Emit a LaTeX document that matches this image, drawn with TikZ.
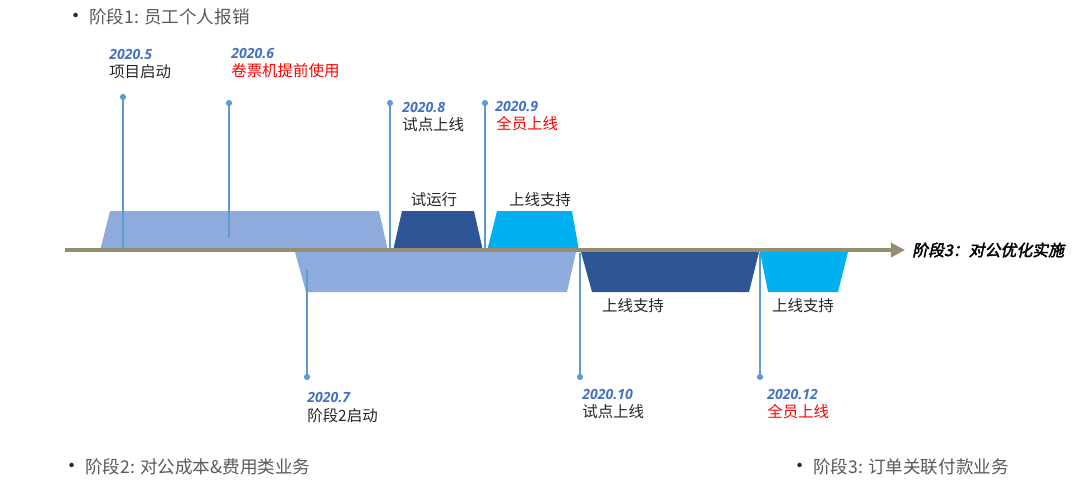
\documentclass[tikz,border=0pt]{standalone}
\usepackage{fontspec}
\setmainfont{Noto Sans CJK SC}[AutoFakeBold=2.5,AutoFakeSlant=0.2]
\newfontfamily\datefont{Open Sans}
\usetikzlibrary{arrows.meta}

\definecolor{lightbar}{RGB}{143,170,220}
\definecolor{darkbar}{RGB}{47,85,151}
\definecolor{cyanbar}{RGB}{0,176,240}
\definecolor{pinblue}{RGB}{91,155,213}
\definecolor{dateblue}{RGB}{68,114,196}
\definecolor{axisolive}{RGB}{150,141,112}
\definecolor{txtgray}{RGB}{38,38,38}
\definecolor{bulletgray}{RGB}{89,89,89}
\definecolor{bulletdot}{RGB}{31,42,68}
\definecolor{alertred}{RGB}{255,0,0}

\begin{document}
\begin{tikzpicture}[x=0.025cm,y=-0.025cm,
    pinline/.style={draw=pinblue,line width=1.5pt},
    datetext/.style={anchor=west,inner sep=0pt,text=dateblue,font=\datefont\bfseries\itshape\fontsize{10}{12}\selectfont},
    eventtext/.style={anchor=west,inner sep=0pt,text=txtgray,font=\fontsize{11}{13}\selectfont},
    redtext/.style={eventtext,text=alertred},
    boxtext/.style={inner sep=0pt,text=txtgray,font=\fontsize{11}{13}\selectfont},
    bullettext/.style={anchor=west,inner sep=0pt,text=bulletgray,font=\fontsize{12.5}{15}\selectfont}]
    \useasboundingbox (0,0) rectangle (1080,501);

    % Bars above the axis
    \fill[lightbar] (100,251) -- (110,211) -- (379,211) -- (388,251) -- cycle;
    \fill[darkbar] (393,251) -- (402,211) -- (474,211) -- (483,251) -- cycle;
    \fill[cyanbar] (487,251) -- (497,211) -- (572,211) -- (579,251) -- cycle;

    % Bars below the axis
    \fill[lightbar] (295,252) -- (576,252) -- (567,292) -- (306,292) -- cycle;
    \fill[darkbar] (581,252) -- (759,252) -- (749,292) -- (592,292) -- cycle;
    \fill[cyanbar] (760,252) -- (848,252) -- (838,292) -- (768,292) -- cycle;

    % Time axis
    \coordinate (axisstart) at (65,250);
    \coordinate (axisend) at (905,250);
    \draw[axisolive, line width=2.2pt, -{Triangle[length=10pt,width=10pt]}] (axisstart) -- (axisend);
    \node[anchor=west, inner sep=0pt, text=black, font=\bfseries\itshape\fontsize{11.3}{13}\selectfont] (phase3) at (912,250) {阶段3：对公优化实施};

    % Milestone pins
    \foreach \name/\x/\ytop/\ybot in {m5/123/97/250, m6/229/103/238, m8/390/103/250, m9/485/103/250,
                                     m7/307/377/270, m10/580/377/253, m12/760/377/253} {
        \coordinate (\name-dot) at (\x,\ytop);
        \coordinate (\name-base) at (\x,\ybot);
        \draw[pinline] (\name-base) -- (\name-dot);
        \fill[pinblue] (\name-dot) circle (2.2pt);
    }

    % Milestone labels above
    \node[datetext] (d5) at (109,54) {2020.5};
    \node[eventtext] (e5) at (109,72) {项目启动};
    \node[datetext] (d6) at (231,53) {2020.6};
    \node[redtext] (e6) at (231,71) {卷票机提前使用};
    \node[datetext] (d8) at (402,107) {2020.8};
    \node[eventtext] (e8) at (402,125) {试点上线};
    \node[datetext] (d9) at (495,106) {2020.9};
    \node[redtext] (e9) at (496,124) {全员上线};

    % Milestone labels below
    \node[datetext] (d7) at (307,397) {2020.7};
    \node[eventtext] (e7) at (307,416) {阶段2启动};
    \node[datetext] (d10) at (582,394) {2020.10};
    \node[eventtext] (e10) at (582,412) {试点上线};
    \node[datetext] (d12) at (767,394) {2020.12};
    \node[redtext] (e12) at (767,412) {全员上线};

    % Bar captions
    \node[boxtext] (trial) at (434,200) {试运行};
    \node[boxtext] (support1) at (540,200) {上线支持};
    \node[boxtext] (support2) at (633,306) {上线支持};
    \node[boxtext] (support3) at (803,306) {上线支持};

    % Phase bullets
    \node[bullettext] (phase1) at (65,17) {{\color{bulletdot}\fontsize{15}{15}\selectfont•}\hspace{2pt}阶段1: 员工个人报销};
    \node[bullettext] (phase2) at (61,467) {{\color{bulletdot}\fontsize{15}{15}\selectfont•}\hspace{2pt}阶段2: 对公成本\&费用类业务};
    \node[bullettext] (phase3b) at (789,467) {{\color{bulletdot}\fontsize{15}{15}\selectfont•}\hspace{2pt}阶段3: 订单关联付款业务};

\end{tikzpicture}
\end{document}
